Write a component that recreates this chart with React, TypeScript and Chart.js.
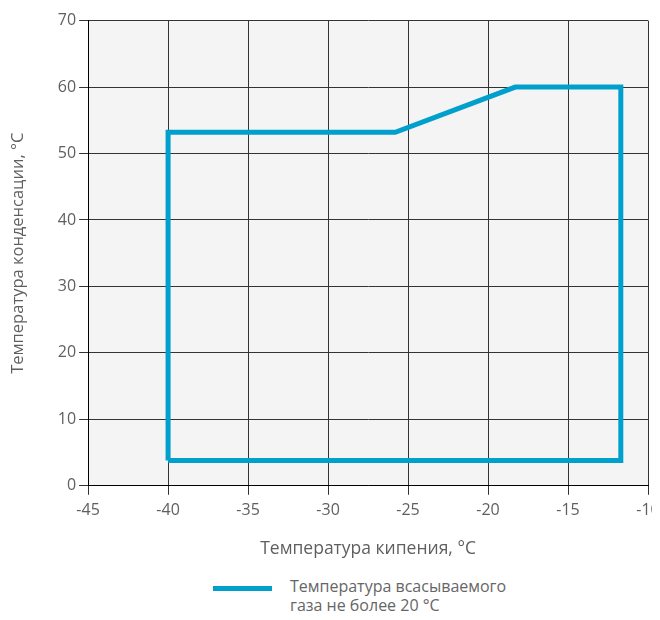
import React, { useEffect, useRef } from "react";
import { Chart, registerables } from "chart.js";

Chart.register(...registerables);

const evapTemps = [-40, -40, -25.8, -18.3, -11.7, -11.7, -40];
const condTemps = [3.8, 53.2, 53.2, 60, 60, 3.8, 3.8];
const seriesLabel = ["Температура всасываемого", "газа не более 20 °C"];
const xTitle = "Температура кипения, °C";
const yTitle = "Температура конденсации, °C";
const lineColor = "#009fcc";
const FAMILY = "'Open Sans', sans-serif";

const bgPlugin = {
  id: "plotBg",
  beforeDraw(chart: any) {
    const { ctx, chartArea } = chart;
    if (!chartArea) return;
    ctx.save();
    ctx.fillStyle = "#f4f4f4";
    ctx.fillRect(chartArea.left, chartArea.top, chartArea.right - chartArea.left, chartArea.bottom - chartArea.top);
    ctx.restore();
  },
};

export default function App() {
  const ref = useRef<HTMLCanvasElement>(null);
  useEffect(() => {
    if (!ref.current) return;
    const font = { family: FAMILY, size: 16 };
    const chart = new Chart(ref.current, {
      type: "scatter",
      data: {
        datasets: [
          {
            label: seriesLabel.join(" "),
            data: evapTemps.map((x, i) => ({ x, y: condTemps[i] })),
            showLine: true,
            borderColor: lineColor,
            backgroundColor: lineColor,
            borderWidth: 5,
            pointRadius: 0,
            borderJoinStyle: "miter",
            tension: 0,
          },
        ],
      },
      options: {
        animation: false,
        responsive: false,
        maintainAspectRatio: false,
        layout: { padding: { top: 3, right: 32, left: 0, bottom: 0 } },
        plugins: { legend: { display: false }, tooltip: { enabled: false } },
        scales: {
          x: {
            type: "linear",
            min: -45,
            max: -10,
            ticks: { stepSize: 5, color: "#5f5f5f", font, padding: 6 },
            grid: { color: "#333", lineWidth: 1, tickLength: 9, drawTicks: true },
            border: { color: "#000", width: 1 },
            title: { display: true, text: xTitle, color: "#5f5f5f", font: { family: FAMILY, size: 17.5 }, padding: { top: 13, bottom: 0 } },
          },
          y: {
            type: "linear",
            min: 0,
            max: 70,
            ticks: { stepSize: 10, color: "#5f5f5f", font, padding: 3 },
            grid: { color: "#333", lineWidth: 1, tickLength: 9, drawTicks: true },
            border: { color: "#000", width: 1 },
            title: { display: true, text: yTitle, color: "#5f5f5f", font: { family: FAMILY, size: 16.5 }, padding: { top: 0, bottom: 27 } },
          },
        },
      },
      plugins: [bgPlugin],
    });
    let alive = true;
    if ((document as any).fonts) {
      Promise.all([
        (document as any).fonts.load("16px 'Open Sans'"),
        (document as any).fonts.load("17px 'Open Sans'"),
      ]).then(() => {
        if (alive) chart.update();
      });
    }
    return () => {
      alive = false;
      chart.destroy();
    };
  }, []);

  return (
    <div style={{ position: "relative", width: 652, height: 612, overflow: "hidden", fontFamily: FAMILY }}>
      <canvas ref={ref} width={672} height={552} style={{ display: "block", width: 672, height: 552 }} />
      <div style={{ position: "absolute", left: 205, top: 578, width: 59, height: 5, background: lineColor }} />
      <div style={{ position: "absolute", left: 282, top: 569, color: "#666", fontSize: 16, lineHeight: "19px" }}>
        {seriesLabel.map((t, i) => (
          <div key={i}>{t}</div>
        ))}
      </div>
    </div>
  );
}
